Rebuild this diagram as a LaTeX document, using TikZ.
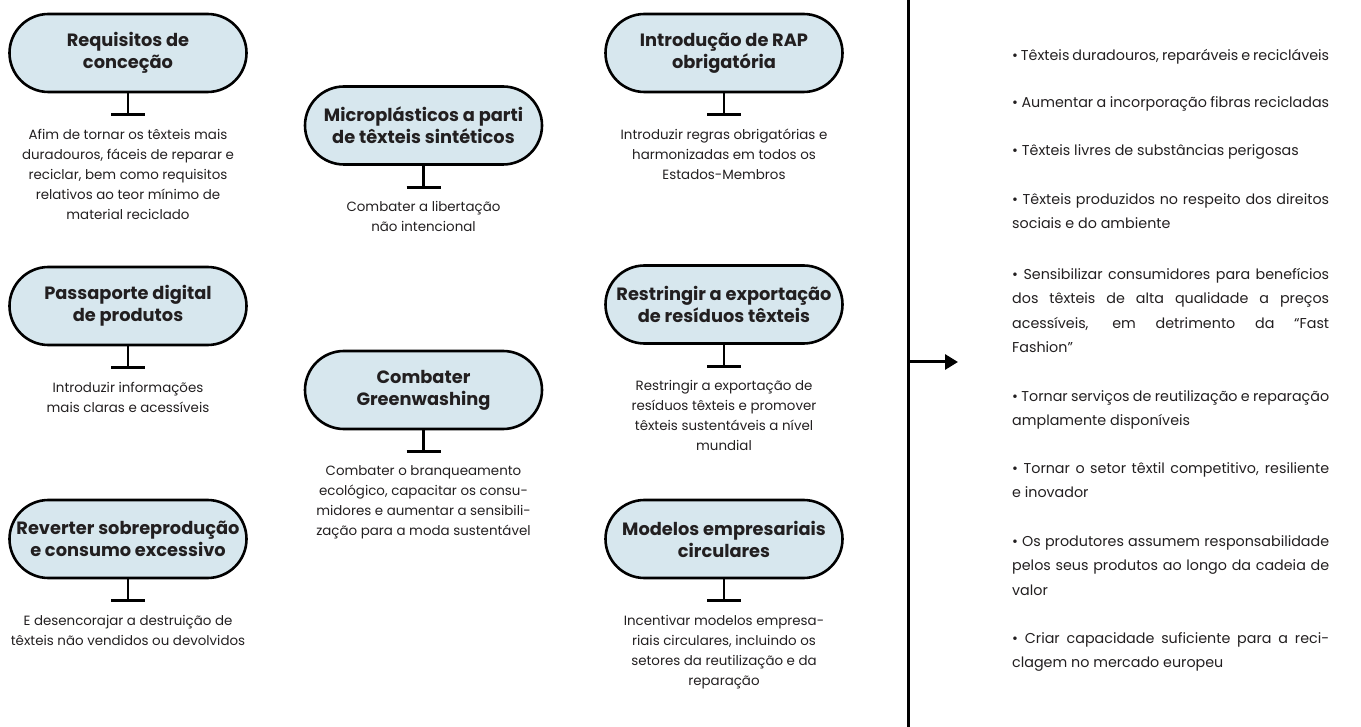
\documentclass[tikz,border=0pt]{standalone}
\usepackage{fontspec}
\setmainfont{Poppins}
\usetikzlibrary{arrows.meta}
\definecolor{boxfill}{RGB}{215,231,238}
\definecolor{ink}{RGB}{34,31,32}
\begin{document}
\begin{tikzpicture}[x=1pt,y=-1pt,
  measure/.style={draw=black,line width=2.6pt,fill=boxfill,rounded corners=39pt,
    minimum width=237pt,minimum height=78pt,inner sep=0pt,align=center,
    text=ink,font=\bfseries\fontsize{17.8}{22}\selectfont},
  stem/.style={line width=2.8pt,black},
  detail/.style={anchor=north,inner sep=0pt,align=center,text=ink,
    font=\fontsize{13.4}{20}\selectfont},
  goal/.style={anchor=north west,inner sep=0pt,text width=317pt,align=justify,text=ink,
    font=\fontsize{14.3}{24.5}\selectfont,
    execute at begin node={\hyphenpenalty=10000 \exhyphenpenalty=10000 }}]
\useasboundingbox (0,0) rectangle (1361,727);

% measures
\node[measure] (b1) at (128,53) {Requisitos de\\conceção};
\node[measure] (b2) at (423.5,125.5) {Microplásticos a parti\\de têxteis sintéticos};
\node[measure] (b3) at (724,53) {Introdução de RAP\\obrigatória};
\node[measure] (b4) at (128,306) {Passaporte digital\\de produtos};
\node[measure] (b5) at (423.5,390) {Combater\\Greenwashing};
\node[measure] (b6) at (724,304.5) {Restringir a exportação\\de resíduos têxteis};
\node[measure] (b7) at (128,539) {Reverter sobreprodução\\e consumo excessivo};
\node[measure] (b8) at (724,539) {Modelos empresariais\\circulares};

% stems ending in a bar
\foreach \b in {b1,b2,b3,b4,b5,b6,b7,b8}{
  \draw[stem] (\b.south) -- ++(0,21.5) coordinate (\b-t);
  \draw[stem] ([xshift=-17pt]\b-t) -- ([xshift=17pt]\b-t);
}

% details under each measure
\node[detail] (d1) at ([yshift=-14pt]b1-t) {Afim de tornar os têxteis mais\\duradouros, fáceis de reparar e\\reciclar, bem como requisitos\\relativos ao teor mínimo de\\material reciclado};
\node[detail] (d2) at ([yshift=-14pt]b2-t) {Combater a libertação\\não intencional};
\node[detail] (d3) at ([yshift=-14pt]b3-t) {Introduzir regras obrigatórias e\\harmonizadas em todos os\\Estados-Membros};
\node[detail] (d4) at ([yshift=-14pt]b4-t) {Introduzir informações\\mais claras e acessíveis};
\node[detail] (d5) at ([yshift=-14pt]b5-t) {Combater o branqueamento\\ecológico, capacitar os consu-\\midores e aumentar a sensibili-\\zação para a moda sustentável};
\node[detail] (d6) at ([yshift=-14pt]b6-t) {Restringir a exportação de\\resíduos têxteis e promover\\têxteis sustentáveis a nível\\mundial};
\node[detail] (d7) at ([yshift=-14pt]b7-t) {E desencorajar a destruição de\\têxteis não vendidos ou devolvidos};
\node[detail] (d8) at ([yshift=-14pt]b8-t) {Incentivar modelos empresa-\\riais circulares, incluindo os\\setores da reutilização e da\\reparação};

% divider and arrow
\coordinate (top) at (908,0);
\coordinate (bottom) at (908,727);
\coordinate (fork) at (908,362);
\coordinate (tip) at (958,362);
\draw[line width=3pt] (top) -- (bottom);
\draw[line width=3pt,-{Triangle[length=13pt,width=15pt]}] (fork) -- (tip);

% outcomes
\node[goal] (g1) at (1012,49) {• Têxteis duradouros, reparáveis e recicláveis};
\node[goal] (g2) at (1012,96) {• Aumentar a incorporação fibras recicladas};
\node[goal] (g3) at (1012,144) {• Têxteis livres de substâncias perigosas};
\node[goal] (g4) at (1012,193) {• Têxteis produzidos no respeito dos direitos\linebreak sociais e do ambiente};
\node[goal] (g5) at (1012,268) {• Sensibilizar consumidores para benefícios\linebreak dos têxteis de alta qualidade a preços\linebreak acessíveis, em detrimento da “Fast\linebreak Fashion”};
\node[goal] (g6) at (1012,390) {• Tornar serviços de reutilização e reparação\linebreak amplamente disponíveis};
\node[goal] (g7) at (1012,462) {• Tornar o setor têxtil competitivo, resiliente\linebreak e inovador};
\node[goal] (g8) at (1012,535) {• Os produtores assumem responsabilidade\linebreak pelos seus produtos ao longo da cadeia de\linebreak valor};
\node[goal] (g9) at (1012,632) {• Criar capacidade suficiente para a reci-\linebreak clagem no mercado europeu};
\end{tikzpicture}
\end{document}
